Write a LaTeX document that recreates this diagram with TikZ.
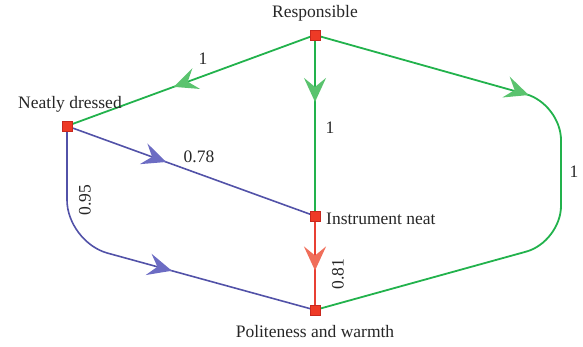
\documentclass[tikz,border=0pt]{standalone}
\usepackage{fontspec}
\setmainfont{Liberation Serif}
\usetikzlibrary{arrows.meta,decorations.markings}
\definecolor{gline}{RGB}{34,178,76}
\definecolor{garr}{RGB}{90,195,110}
\definecolor{bline}{RGB}{82,82,168}
\definecolor{barr}{RGB}{108,108,195}
\definecolor{rline}{RGB}{232,64,52}
\definecolor{rarr}{RGB}{240,110,90}
\definecolor{sqfill}{RGB}{238,58,38}
\definecolor{sqdraw}{RGB}{200,40,30}
\tikzset{
  sq/.style={draw=sqdraw,fill=sqfill,line width=0.6pt,minimum size=10pt,inner sep=0pt},
  lbl/.style={font=\fontsize{17.5}{17.5}\selectfont,text=black!85,inner sep=0pt},
  midarrow/.style 2 args={postaction={decorate},decoration={markings,
     mark=at position #1 with {\arrow{Stealth[length=24pt,width=22pt,inset=9pt,color=#2]}}}}
}
\begin{document}
\begin{tikzpicture}[x=1pt,y=-1pt]
\useasboundingbox (0,0) rectangle (583,347);
\coordinate (R) at (315,35);
\coordinate (N) at (67,126);
\coordinate (I) at (315,216);
\coordinate (P) at (315,310);
\coordinate (rc1) at (561,104);
\coordinate (rc2) at (561,242);
\coordinate (lc) at (67,242);

% edges
\draw[gline,line width=1.8pt,midarrow={0.57}{garr}] (R) -- (N);
\draw[gline,line width=2.8pt,midarrow={0.37}{garr}] (R) -- (I);
\draw[gline,line width=1.8pt,rounded corners=36pt,midarrow={222pt}{garr}] (R) -- (rc1) -- (rc2) -- (P);
\draw[bline,line width=1.6pt,midarrow={0.40}{barr}] (N) -- (I);
\draw[bline,line width=1.6pt,rounded corners=42pt,midarrow={212pt}{barr}] (N) -- (lc) -- (P);
\draw[rline,line width=2.8pt,midarrow={0.58}{rarr}] (I) -- (P);

% nodes
\node[sq] (Rs) at (R) {};
\node[sq] (Ns) at (N) {};
\node[sq] (Is) at (I) {};
\node[sq] (Ps) at (P) {};

% node texts
\node[lbl] (Rt) at (315,13) {Responsible};
\node[lbl] (Nt) at (70,104) {Neatly dressed};
\node[lbl,anchor=west] (It) at (326,219) {Instrument neat};
\node[lbl] (Pt) at (315,332) {Politeness and warmth};

% edge labels
\node[lbl] (l1) at (203,59) {1};
\node[lbl] (l2) at (330,128) {1};
\node[lbl] (l3) at (574,172) {1};
\node[lbl] (l4) at (199,157) {0.78};
\node[lbl,rotate=90] (l5) at (85,200) {0.95};
\node[lbl,rotate=90] (l6) at (338,274) {0.81};
\end{tikzpicture}
\end{document}
